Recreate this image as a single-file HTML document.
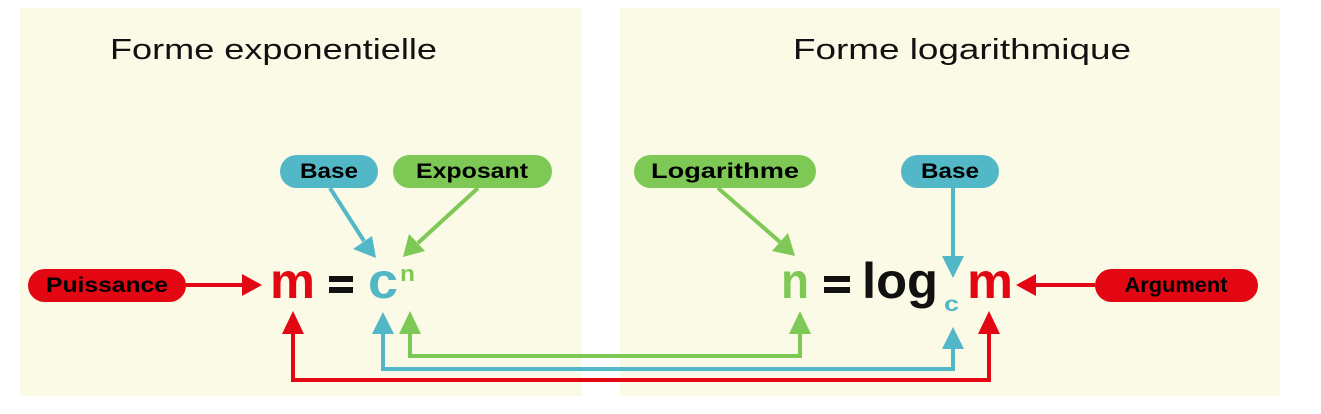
<!DOCTYPE html>
<html><head><meta charset="utf-8"><style>
html,body{margin:0;padding:0;background:#fff;width:1321px;height:414px;overflow:hidden}
text{font-family:"Liberation Sans",sans-serif}
</style></head><body>
<svg width="1321" height="414" viewBox="0 0 1321 414" xmlns="http://www.w3.org/2000/svg">
<rect x="20" y="8" width="562" height="388" fill="#fafae6"/>
<rect x="620" y="8" width="660" height="388" fill="#fafae6"/>
<text x="110" y="59" font-size="29" textLength="327" lengthAdjust="spacingAndGlyphs" fill="#111">Forme exponentielle</text>
<text x="793" y="59" font-size="29" textLength="338" lengthAdjust="spacingAndGlyphs" fill="#111">Forme logarithmique</text>

<rect x="28" y="269" width="158" height="33" rx="16.5" fill="#e30613"/>
<text x="107" y="292" font-size="21" font-weight="bold" text-anchor="middle" textLength="122" lengthAdjust="spacingAndGlyphs">Puissance</text>
<rect x="280" y="155" width="98" height="33" rx="16.5" fill="#52b7c6"/>
<text x="329" y="178" font-size="21" font-weight="bold" text-anchor="middle" textLength="58" lengthAdjust="spacingAndGlyphs">Base</text>
<rect x="393" y="155" width="159" height="33" rx="16.5" fill="#7ec855"/>
<text x="472" y="178" font-size="21" font-weight="bold" text-anchor="middle" textLength="112" lengthAdjust="spacingAndGlyphs">Exposant</text>
<rect x="634" y="155" width="182" height="33" rx="16.5" fill="#7ec855"/>
<text x="725" y="178" font-size="21" font-weight="bold" text-anchor="middle" textLength="148" lengthAdjust="spacingAndGlyphs">Logarithme</text>
<rect x="901" y="155" width="98" height="33" rx="16.5" fill="#52b7c6"/>
<text x="950" y="178" font-size="21" font-weight="bold" text-anchor="middle" textLength="58" lengthAdjust="spacingAndGlyphs">Base</text>
<rect x="1095" y="269" width="163" height="33" rx="16.5" fill="#e30613"/>
<text x="1176" y="292" font-size="21" font-weight="bold" text-anchor="middle" textLength="103" lengthAdjust="spacingAndGlyphs">Argument</text>

<text x="270" y="298" font-size="50" font-weight="bold" fill="#e30613" textLength="45" lengthAdjust="spacingAndGlyphs">m</text>
<rect x="329" y="276" width="24" height="6" fill="#111"/><rect x="329" y="287" width="24" height="6" fill="#111"/>
<text x="368" y="298" font-size="50" font-weight="bold" fill="#52b7c6" textLength="30" lengthAdjust="spacingAndGlyphs">c</text>
<text x="400" y="281" font-size="22" font-weight="bold" fill="#7ec855" textLength="15" lengthAdjust="spacingAndGlyphs">n</text>

<text x="781" y="298" font-size="50" font-weight="bold" fill="#7ec855" textLength="28" lengthAdjust="spacingAndGlyphs">n</text>
<rect x="824" y="276" width="26" height="6" fill="#111"/><rect x="824" y="287" width="26" height="6" fill="#111"/>
<text x="862" y="298" font-size="50" font-weight="bold" fill="#111" textLength="76" lengthAdjust="spacingAndGlyphs">log</text>
<text x="944" y="311" font-size="21" font-weight="bold" fill="#52b7c6" textLength="15" lengthAdjust="spacingAndGlyphs">c</text>
<text x="967" y="298" font-size="50" font-weight="bold" fill="#e30613" textLength="46" lengthAdjust="spacingAndGlyphs">m</text>

<line x1="186" y1="285" x2="245" y2="285" stroke="#e30613" stroke-width="4"/>
<polygon points="262,285 242,274 242,296" fill="#e30613"/>
<line x1="1095" y1="285" x2="1035" y2="285" stroke="#e30613" stroke-width="4"/>
<polygon points="1016,285 1036,274 1036,296" fill="#e30613"/>

<line x1="330" y1="188" x2="364" y2="241" stroke="#52b7c6" stroke-width="4"/>
<polygon points="376,258 353,249 372,236" fill="#52b7c6"/>
<line x1="478" y1="188" x2="418" y2="243" stroke="#7ec855" stroke-width="4"/>
<polygon points="403,257 409,234 425,251" fill="#7ec855"/>
<line x1="718" y1="188" x2="780" y2="242" stroke="#7ec855" stroke-width="4"/>
<polygon points="795,256 772,251 788,233" fill="#7ec855"/>
<line x1="953" y1="188" x2="953" y2="260" stroke="#52b7c6" stroke-width="4"/>
<polygon points="953,278 942,256 964,256" fill="#52b7c6"/>

<polyline points="410,333 410,356 800,356 800,333" fill="none" stroke="#7ec855" stroke-width="4"/>
<polygon points="410,311 399,334 421,334" fill="#7ec855"/>
<polygon points="800,311 789,334 811,334" fill="#7ec855"/>
<polyline points="383,333 383,369 953,369 953,348" fill="none" stroke="#52b7c6" stroke-width="4"/>
<polygon points="383,312 372,334 394,334" fill="#52b7c6"/>
<polygon points="953,327 942,349 964,349" fill="#52b7c6"/>
<polyline points="293,333 293,380 989,380 989,333" fill="none" stroke="#e30613" stroke-width="4"/>
<polygon points="293,311 282,334 304,334" fill="#e30613"/>
<polygon points="989,311 978,334 1000,334" fill="#e30613"/>
</svg>
</body></html>
